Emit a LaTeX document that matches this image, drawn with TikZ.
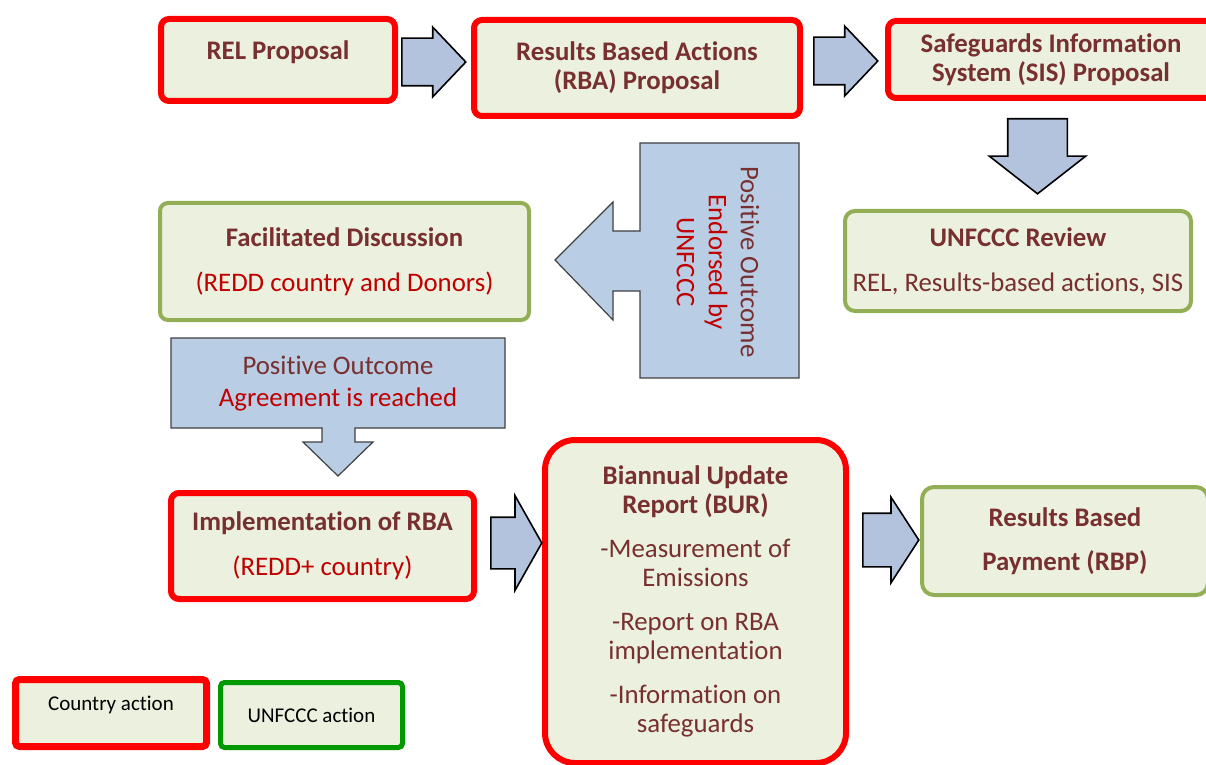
\documentclass[tikz,border=0pt]{standalone}
\usepackage{fontspec}
\setmainfont{Carlito}[Ligatures=NoCommon]
\usetikzlibrary{shapes.arrows}
\definecolor{boxfill}{HTML}{EBF1DE}
\definecolor{countryred}{HTML}{FF0000}
\definecolor{unfcccgreen}{HTML}{92AF55}
\definecolor{legendgreen}{HTML}{009A00}
\definecolor{titlered}{HTML}{772F2F}
\definecolor{textred}{HTML}{C00000}
\definecolor{arrowblue}{HTML}{B3C3DE}
\definecolor{calloutblue}{HTML}{B9CDE5}

\begin{document}
\begin{tikzpicture}[
		x=0.5pt, y=-0.5pt,
		every node/.style={font=\fontsize{13.4}{14.5}\selectfont, text=titlered},
		bold/.style={font=\fontsize{13.4}{14.5}\selectfont\bfseries},
		box/.style={rectangle, fill=boxfill, align=center, inner sep=0pt, rounded corners=4pt},
		country/.style={box, draw=countryred, line width=3pt},
		unfccc/.style={box, draw=unfcccgreen, line width=2pt},
		blockarrow/.style={single arrow, draw=black, line width=0.8pt, fill=arrowblue, inner xsep=0pt, anchor=tail},
		callout/.style={draw=black!75, line width=0.6pt, fill=calloutblue},
		legend/.style={text=black, font=\fontsize{10.5}{12}\selectfont, rounded corners=2pt},
		]

	\useasboundingbox (0,0) rectangle (1206,765);

	\node (rel) [country, bold, minimum width=117pt, minimum height=41pt, text depth=9.5pt] at (278,60) {REL Proposal};
	\node (rba) [country, bold, minimum width=163pt, minimum height=48pt] at (637,68) {Results Based Actions\\(RBA) Proposal};
	\node (sis) [country, bold, minimum width=163pt, minimum height=38.5pt] at (1051,59.5) {Safeguards Information\\System (SIS) Proposal};
	\node (review) [unfccc, rounded corners=5pt, minimum width=173pt, minimum height=50pt] at (1018,261)
		{\textbf{UNFCCC Review}\\[8pt]REL, Results-based actions, SIS};
	\node (disc) [unfccc, minimum width=184.5pt, minimum height=58.5pt] at (344.5,261.5)
		{\textbf{Facilitated Discussion}\\[8pt]\textcolor{textred}{(REDD country and Donors)}};
	\node (impl) [country, minimum width=151.5pt, minimum height=53pt] at (322.5,546)
		{\textbf{Implementation of RBA}\\[8pt]\textcolor{textred}{(REDD+ country)}};
	\node (bur) [country, rounded corners=15pt, minimum width=150.5pt, minimum height=161.5pt] at (695.5,601.5)
		{\textbf{Biannual Update}\\\textbf{Report (BUR)}\\[7.5pt]-Measurement of\\Emissions\\[7.5pt]-Report on RBA\\implementation\\[7.5pt]-Information on\\safeguards};
	\node (rbp) [unfccc, bold, rounded corners=6pt, minimum width=143pt, minimum height=54pt] at (1065,541) {Results Based\\[7.5pt]Payment (RBP)};

	\node (relrba) [blockarrow, inner ysep=11.5pt, minimum height=32pt, minimum width=34pt, single arrow head extend=5.5pt, single arrow tip angle=93] at (401,62) {};
	\node (rbasis) [blockarrow, inner ysep=11.5pt, minimum height=32pt, minimum width=34pt, single arrow head extend=5.5pt, single arrow tip angle=93] at (813,61) {};
	\node (sisreview) [blockarrow, rotate=-90, inner ysep=14.5pt, minimum height=37.5pt, minimum width=47.5pt, single arrow head extend=9.25pt, single arrow tip angle=104] at (1037.5,118) {};
	\node (implbur) [blockarrow, inner ysep=12.5pt, minimum height=25.5pt, minimum width=46.5pt, single arrow head extend=10.75pt, single arrow tip angle=121] at (490,543) {};
	\node (burrbp) [blockarrow, inner ysep=13pt, minimum height=28pt, minimum width=42pt, single arrow head extend=8pt, single arrow tip angle=114] at (862,540) {};

	\draw[callout] (799,143) -- (640,143) -- (640,231) -- (613,231) -- (613,202) -- (555,260)
		-- (613,320) -- (613,291) -- (640,291) -- (640,378) -- (799,378) -- cycle;
	\node (endorsed) [rotate=-90, align=center, font=\fontsize{13.4}{16}\selectfont] at (718,262)
		{Positive Outcome\\\textcolor{textred}{Endorsed by}\\\textcolor{textred}{UNFCCC}};
	\draw[callout] (171,338) -- (505,338) -- (505,428) -- (355,428) -- (355,442) -- (373,442)
		-- (338,476) -- (303,442) -- (322,442) -- (322,428) -- (171,428) -- cycle;
	\node (agreed) [align=center, font=\fontsize{13.4}{16}\selectfont] at (338,384)
		{Positive Outcome\\\textcolor{textred}{Agreement is reached}};

	\node (legcountry) [country, legend, line width=3.5pt, minimum width=95.5pt, minimum height=33.5pt, text depth=9.5pt] at (111,713) {Country action};
	\node (legunfccc) [unfccc, legend, draw=legendgreen, line width=2.5pt, minimum width=91pt, minimum height=32.5pt] at (311.5,715) {UNFCCC action};
\end{tikzpicture}
\end{document}
